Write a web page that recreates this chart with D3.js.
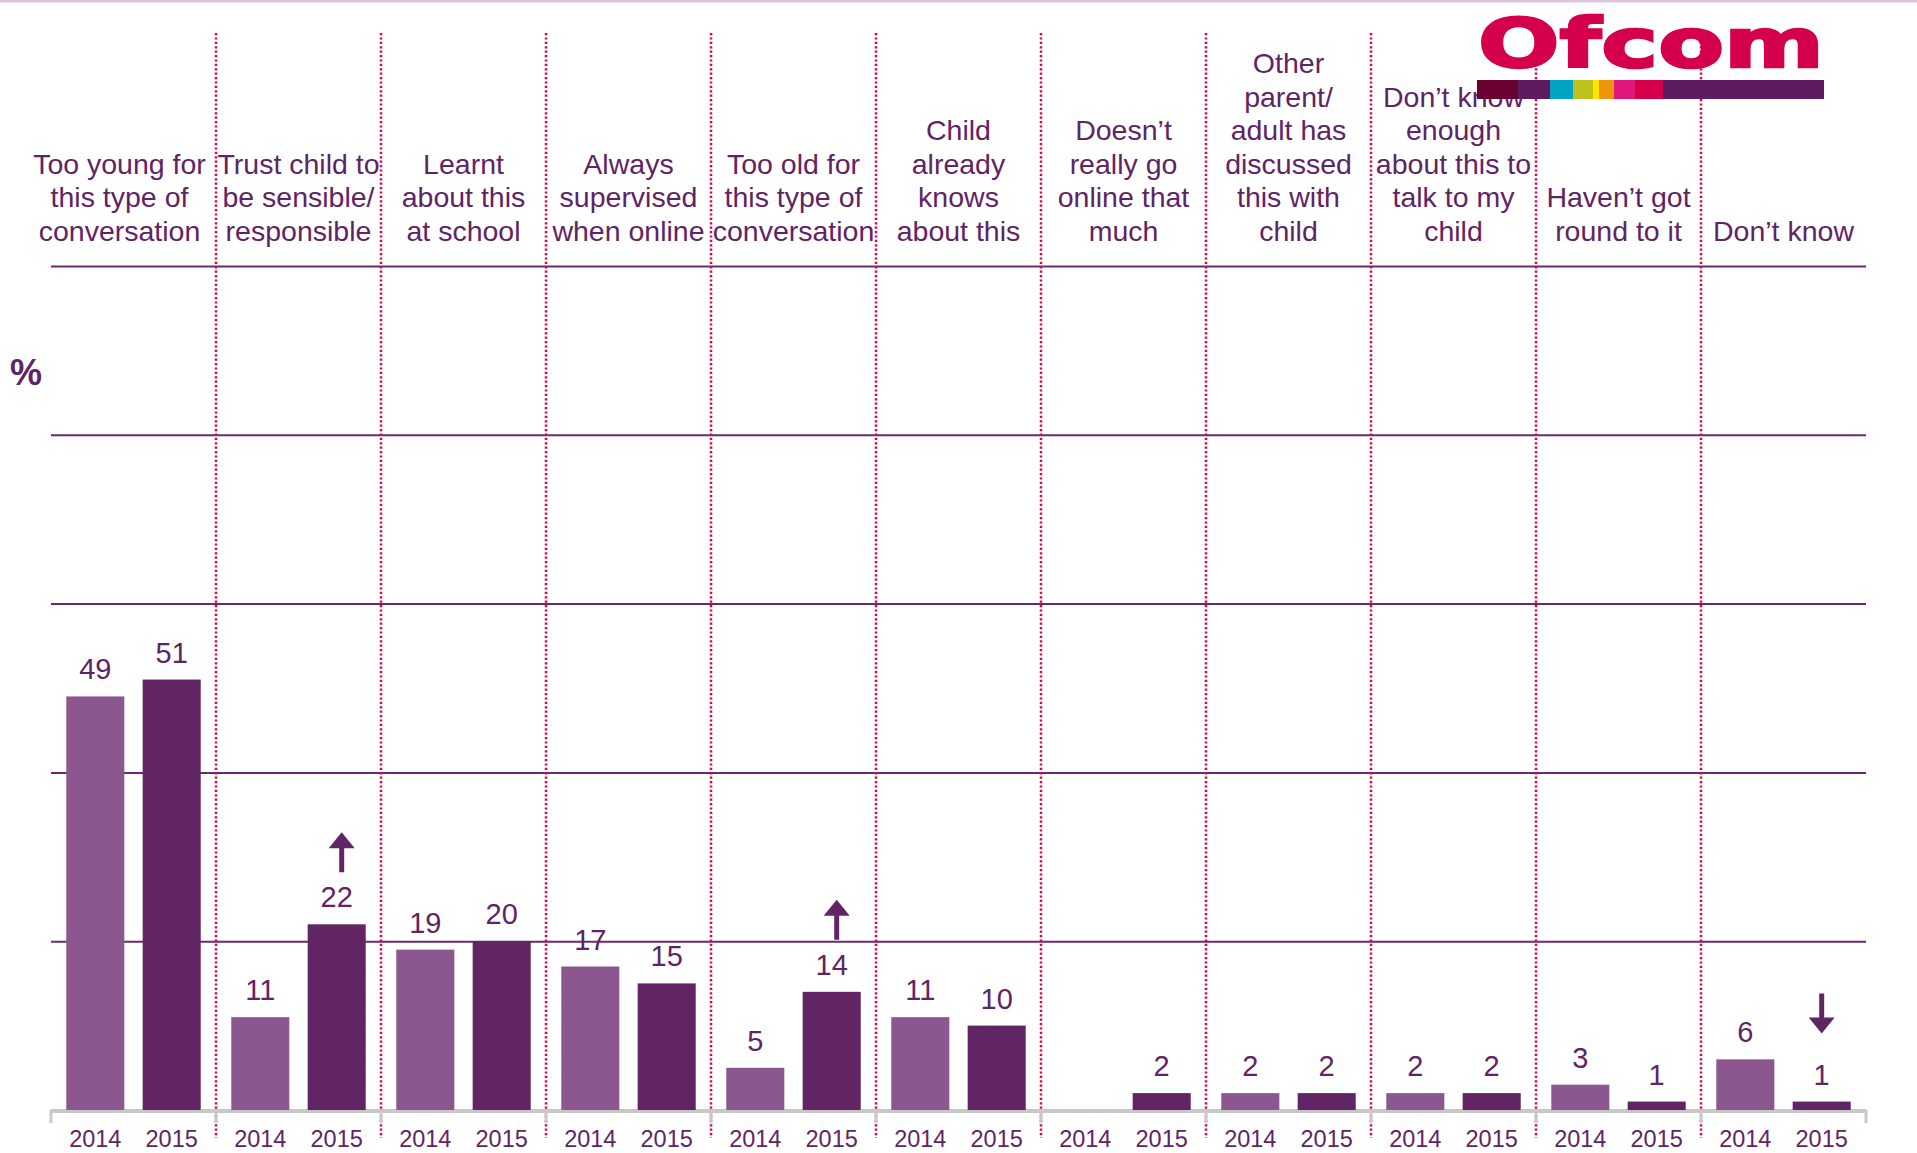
<!DOCTYPE html>
<html>
<head>
<meta charset="utf-8">
<script src="https://cdn.jsdelivr.net/npm/d3@7"></script>
<style>
  body { margin: 0; background: #fff; }
  svg text { font-family: "Liberation Sans", Arial, sans-serif; fill: #5f2466; }
</style>
</head>
<body>
<script>
// category labels, one array of lines each
var categories = [
  ["Too young for", "this type of", "conversation"],
  ["Trust child to", "be sensible/", "responsible"],
  ["Learnt", "about this", "at school"],
  ["Always", "supervised", "when online"],
  ["Too old for", "this type of", "conversation"],
  ["Child", "already", "knows", "about this"],
  ["Doesn\u2019t", "really go", "online that", "much"],
  ["Other", "parent/", "adult has", "discussed", "this with", "child"],
  ["Don\u2019t know", "enough", "about this to", "talk to my", "child"],
  ["Haven\u2019t got", "round to it"],
  ["Don\u2019t know"]
];
var years = ["2014", "2015"];
var values2014 = [49, 11, 19, 17, 5, 11, null, 2, 2, 3, 6];
var values2015 = [51, 22, 20, 15, 14, 10, 2, 2, 2, 1, 1];
// significant change arrows shown on the 2015 bar
var change2015 = [null, "up", null, null, "up", null, null, null, null, null, "down"];
var yTicks = [20, 40, 60, 80, 100];

// logo colour strip
var logoColours = ["#6b0032", "#5e1b60", "#00a5c5", "#bdc21c", "#ffe500", "#ef930c", "#e0187c", "#d5004b", "#5e1b60"];
var logoWidths = [41, 32, 23, 20, 6, 15, 21, 28, 161];

var width = 1917, height = 1153;
var plotLeft = 51, plotRight = 1866, plotBottom = 1110, plotTop = 266;

var svg = d3.select("body").append("svg")
  .attr("width", width)
  .attr("height", height);

var keys = categories.map(function(c){ return c.join(" "); });

var x0 = d3.scaleBand().domain(keys).range([plotLeft, plotRight]).padding(0);
var x1 = d3.scaleBand().domain(years).range([0, x0.bandwidth()])
  .paddingInner(0.24).paddingOuter(0.2);
var y = d3.scaleLinear().domain([0, 100]).range([plotBottom, plotTop]);
var colour = d3.scaleOrdinal().domain(years).range(["#8c578e", "#612465"]);

// thin rule at the very top
svg.append("line")
  .attr("x1", 0).attr("x2", width).attr("y1", 1).attr("y2", 1)
  .attr("stroke", "#dcc6de").attr("stroke-width", 3);

// horizontal gridlines
var grid = svg.append("g")
  .attr("transform", "translate(" + plotLeft + ",0)")
  .call(d3.axisLeft(y).tickValues(yTicks).tickSize(-(plotRight - plotLeft)).tickFormat(""));
grid.select(".domain").remove();
grid.selectAll("line").attr("stroke", "#6a2a6e").attr("stroke-width", 2);

// "%" label
svg.append("text")
  .attr("x", 10).attr("y", 385)
  .style("font-size", "36px").style("font-weight", "bold")
  .text("%");

// category boundaries
var bounds = keys.map(function(k){ return x0(k); }).concat([plotRight]);

// dotted separators
svg.selectAll(".sep")
  .data(bounds.slice(1, -1))
  .enter().append("line")
  .attr("class", "sep")
  .attr("x1", function(d){ return d; }).attr("x2", function(d){ return d; })
  .attr("y1", 33).attr("y2", 1138)
  .attr("stroke", "#e2004f").attr("stroke-width", 2.5)
  .attr("stroke-dasharray", "2.2,2.2");

// baseline axis with ticks at boundaries
svg.append("line")
  .attr("x1", plotLeft).attr("x2", plotRight).attr("y1", plotBottom + 1).attr("y2", plotBottom + 1)
  .attr("stroke", "#c8c8c8").attr("stroke-width", 4);
svg.selectAll(".btick")
  .data(bounds)
  .enter().append("line")
  .attr("class", "btick")
  .attr("x1", function(d){ return d; }).attr("x2", function(d){ return d; })
  .attr("y1", plotBottom).attr("y2", plotBottom + 13)
  .attr("stroke", "#c8c8c8").attr("stroke-width", 3);

// category labels, bottom aligned above top gridline
var lineH = 33.6;
svg.selectAll(".cat")
  .data(categories)
  .enter().append("text")
  .attr("class", "cat")
  .attr("text-anchor", "middle")
  .style("font-size", "28.5px")
  .each(function(lines, i){
    var cx = x0(keys[i]) + x0.bandwidth() / 2 - (i === 0 ? 14 : 0);
    var t = d3.select(this);
    lines.forEach(function(l, j){
      t.append("tspan")
        .attr("x", cx)
        .attr("y", 241 - (lines.length - 1 - j) * lineH)
        .text(l);
    });
  });

// bars
var rows = keys.map(function(k, i){
  return { key: k, i: i, vals: [
    { year: "2014", v: values2014[i], change: null },
    { year: "2015", v: values2015[i], change: change2015[i] }
  ]};
});

var groups = svg.selectAll(".grp")
  .data(rows)
  .enter().append("g")
  .attr("class", "grp")
  .attr("transform", function(d){ return "translate(" + x0(d.key) + ",0)"; });

groups.selectAll("rect")
  .data(function(d){ return d.vals.filter(function(b){ return b.v !== null; }); })
  .enter().append("rect")
  .attr("x", function(d){ return x1(d.year); })
  .attr("y", function(d){ return y(d.v); })
  .attr("width", x1.bandwidth())
  .attr("height", function(d){ return y(0) - y(d.v); })
  .attr("fill", function(d){ return colour(d.year); });

groups.selectAll(".val")
  .data(function(d){ return d.vals.filter(function(b){ return b.v !== null; }); })
  .enter().append("text")
  .attr("class", "val")
  .attr("text-anchor", "middle")
  .attr("x", function(d){ return x1(d.year) + x1.bandwidth() / 2; })
  .attr("y", function(d){ return y(d.v) - 17; })
  .style("font-size", "29px")
  .text(function(d){ return d.v; });

// change arrows
groups.selectAll(".arrow")
  .data(function(d){ return d.vals.filter(function(b){ return b.change; }); })
  .enter().append("path")
  .attr("class", "arrow")
  .attr("fill", "#612465")
  .attr("d", function(d){
    var cx = x1(d.year) + x1.bandwidth() / 2;
    var labelTop = y(d.v) - 17 - 21;
    var len = 40, head = 16, hw = 13, sw = 2.5;
    if (d.change === "up") {
      cx += 5;
      var b = labelTop - 14, t = b - len;
      return "M" + (cx - sw) + "," + b + "V" + (t + head) + "H" + (cx - hw) +
        "L" + cx + "," + t + "L" + (cx + hw) + "," + (t + head) + "H" + (cx + sw) + "V" + b + "Z";
    }
    var tip = labelTop - 30, tl = tip - len;
    return "M" + (cx - sw) + "," + tl + "V" + (tip - head) + "H" + (cx - hw) +
      "L" + cx + "," + tip + "L" + (cx + hw) + "," + (tip - head) + "H" + (cx + sw) + "V" + tl + "Z";
  });

// year labels under each group
groups.append("g")
  .attr("transform", "translate(0," + 1147 + ")")
  .each(function(){
    var ax = d3.select(this).call(d3.axisBottom(x1).tickSize(0).tickPadding(0));
    ax.select(".domain").remove();
    ax.selectAll("text")
      .attr("dy", 0).attr("y", 0)
      .style("font-size", "23.5px")
      .style("fill", "#5f2466")
      .attr("font-family", null);
  });

// Ofcom logo
var logo = svg.append("g");
logo.append("text")
  .attr("x", 1478).attr("y", 67)
  .attr("textLength", 346).attr("lengthAdjust", "spacingAndGlyphs")
  .style("font-family", "'DejaVu Sans', sans-serif")
  .style("font-weight", "bold")
  .style("font-size", "68px")
  .style("fill", "#d5004b")
  .style("stroke", "#d5004b")
  .style("stroke-width", 2.5)
  .text("Ofcom");
var xs = 1477;
logo.selectAll("rect")
  .data(logoColours)
  .enter().append("rect")
  .attr("x", function(d, i){ return xs + d3.sum(logoWidths.slice(0, i)); })
  .attr("y", 80)
  .attr("width", function(d, i){ return logoWidths[i]; })
  .attr("height", 19)
  .attr("fill", function(d){ return d; });
</script>
</body>
</html>
